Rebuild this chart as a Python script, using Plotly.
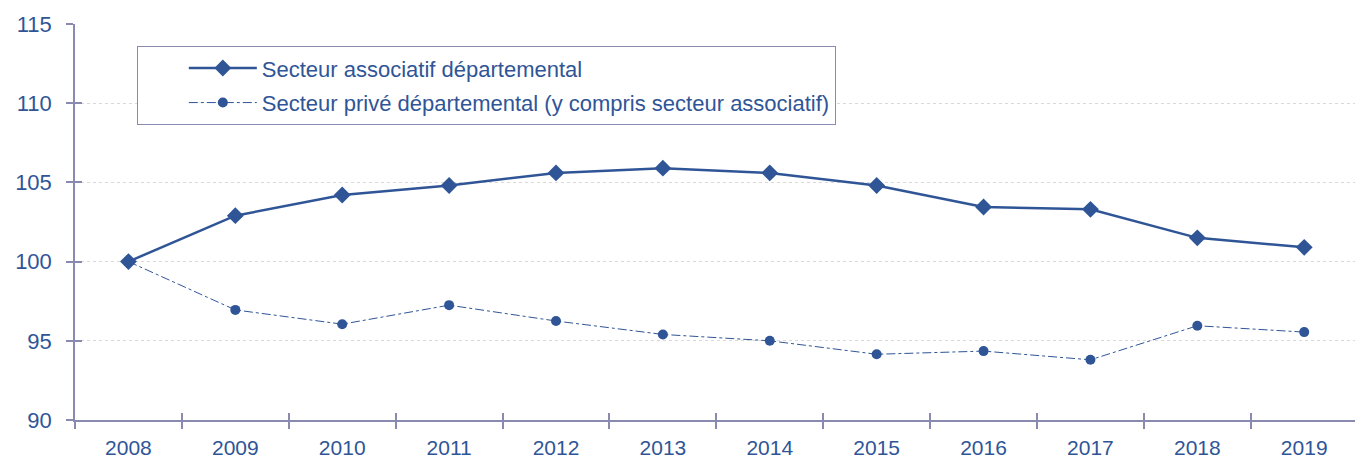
import plotly.graph_objects as go

years = ["2008", "2009", "2010", "2011", "2012", "2013", "2014", "2015", "2016", "2017", "2018", "2019"]
associatif = [100.0, 102.9, 104.2, 104.8, 105.6, 105.9, 105.6, 104.8, 103.45, 103.3, 101.5, 100.9]
prive = [100.0, 96.95, 96.05, 97.25, 96.25, 95.4, 95.0, 94.15, 94.35, 93.8, 95.95, 95.55]
yticks = [90, 95, 100, 105, 110, 115]

blue = "#2F5597"
axis_col = "#8A8AB0"
font = "Liberation Sans"

fig = go.Figure()
fig.add_trace(go.Scatter(
    x=years, y=associatif, name="Secteur associatif départemental",
    mode="lines+markers", legendgroup="a",
    line=dict(color=blue, width=2.5),
    marker=dict(symbol="diamond", size=13, color=blue),
))
fig.add_trace(go.Scatter(
    x=years, y=prive, name="Secteur privé départemental (y compris secteur associatif)",
    mode="lines+markers", legendgroup="b",
    line=dict(color=blue, width=1, dash="dashdot"),
    marker=dict(symbol="circle", size=10, color=blue),
))
# invisible trace to carry the overlay axes (inner half of crossing ticks)
fig.add_trace(go.Scatter(
    x=years, y=associatif, xaxis="x2", yaxis="y2", mode="lines",
    line=dict(width=0), opacity=0, showlegend=False, hoverinfo="skip",
))

fig.update_layout(
    width=1355, height=451,
    margin=dict(l=67, r=0, t=16, b=39),
    paper_bgcolor="white", plot_bgcolor="white",
    font=dict(family=font, size=21, color=blue),
    showlegend=True,
    legend=dict(
        x=0.048, y=0.944, xanchor="left", yanchor="top",
        bordercolor=axis_col, borderwidth=1, bgcolor="white",
        font=dict(family=font, size=22, color=blue),
        itemwidth=68, indentation=46, tracegroupgap=3,
    ),
    xaxis=dict(
        type="category", range=[-0.5, 11.55],
        showline=True, linecolor=axis_col, linewidth=1.5,
        ticks="outside", tickson="boundaries", ticklen=7, tickcolor=axis_col, tickwidth=1.5,
        showgrid=False, zeroline=False, ticklabelstandoff=8,
        tickfont=dict(family=font, size=21, color=blue),
    ),
    yaxis=dict(
        range=[90, 115], tickvals=yticks,
        showline=True, linecolor=axis_col, linewidth=1.5,
        ticks="outside", ticklen=7, tickcolor=axis_col, tickwidth=1.5,
        showgrid=True, gridcolor="#D9D9D9", griddash="dot", gridwidth=1,
        zeroline=False, ticklabelstandoff=10,
        tickfont=dict(family=font, size=22, color=blue),
    ),
    xaxis2=dict(
        type="category", range=[-0.5, 11.55], overlaying="x", anchor="y2",
        ticks="inside", tickson="boundaries", ticklen=7, tickcolor=axis_col, tickwidth=1.5,
        showticklabels=False, showgrid=False, zeroline=False, showline=False,
    ),
    yaxis2=dict(
        range=[90, 115], tickvals=yticks, overlaying="y", anchor="x2",
        ticks="inside", ticklen=7, tickcolor=axis_col, tickwidth=1.5,
        showticklabels=False, showgrid=False, zeroline=False, showline=False,
    ),
)

fig.write_html("out.html")
